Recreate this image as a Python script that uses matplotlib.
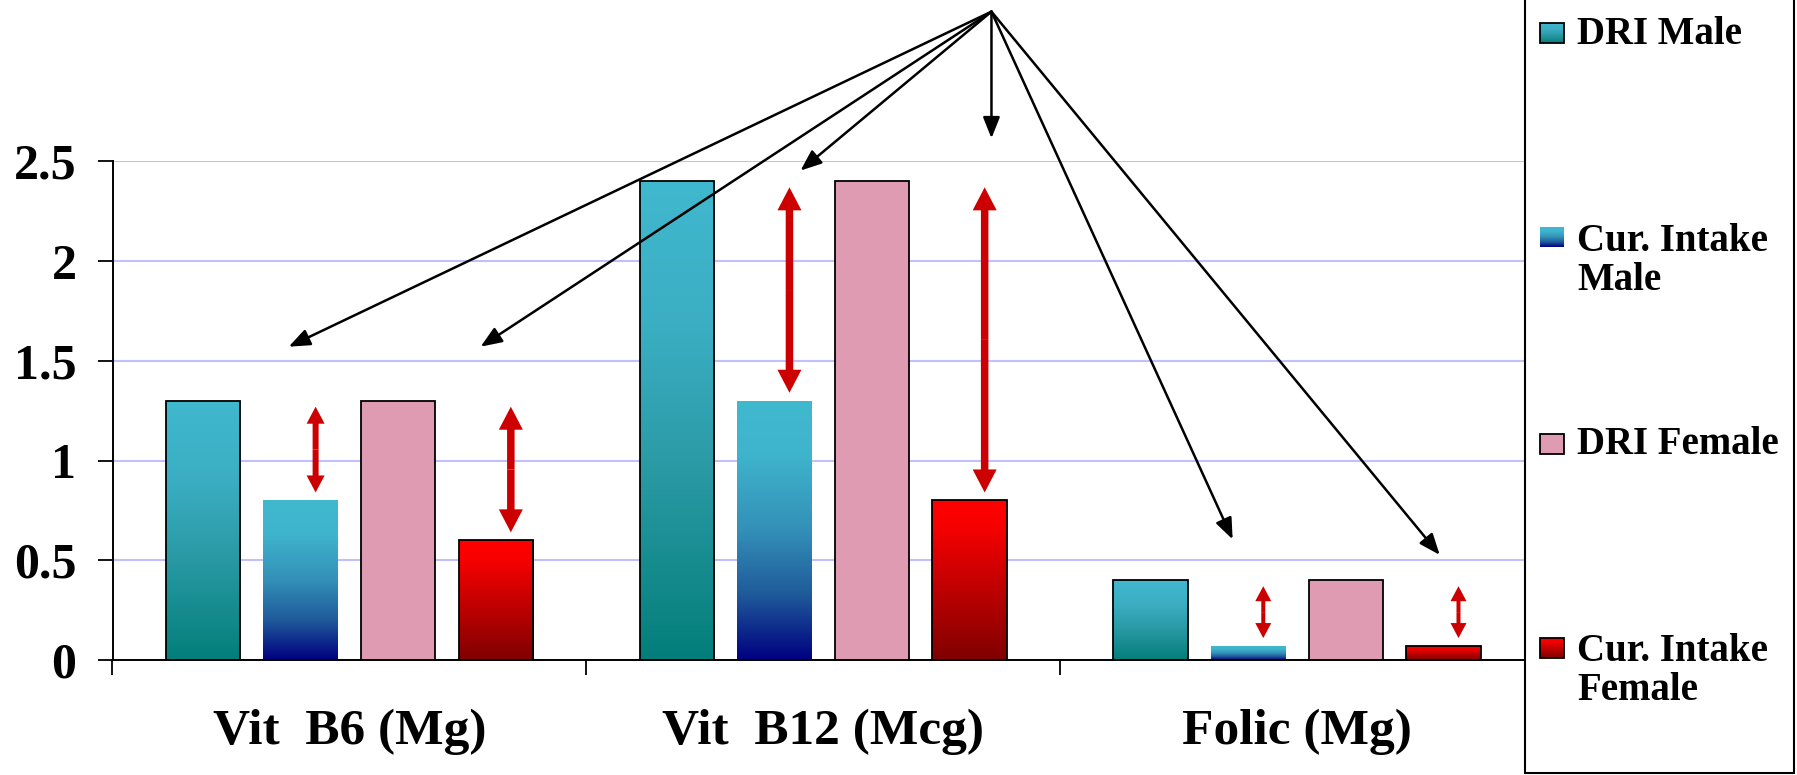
import numpy as np
import matplotlib
matplotlib.use("Agg")
import matplotlib.pyplot as plt
from matplotlib.colors import LinearSegmentedColormap
from matplotlib.patches import Rectangle, FancyArrow
from matplotlib.transforms import blended_transform_factory

plt.rcParams['font.family'] = ['Liberation Serif', 'DejaVu Serif']
plt.rcParams['font.weight'] = 'bold'

# ---- data ----
categories = ["Vit  B6 (Mg)", "Vit  B12 (Mcg)", "Folic (Mg)"]
series_names = ["DRI Male", "Cur. Intake\nMale", "DRI Female", "Cur. Intake\nFemale"]
dri_male = [1.3, 2.4, 0.4]
cur_male = [0.8, 1.3, 0.07]
dri_female = [1.3, 2.4, 0.4]
cur_female = [0.6, 0.8, 0.07]
y_ticks = [0, 0.5, 1, 1.5, 2, 2.5]

series = [dri_male, cur_male, dri_female, cur_female]

# ---- fills ----
def ramp(name, stops):
    return LinearSegmentedColormap.from_list(name, stops)

# colormaps run bottom (0) -> top (1)
fills = [
    ramp("dri_m", [(0.0, "#037E7A"), (0.4, "#2A9AA5"), (0.7, "#3BAEC3"), (1.0, "#40B8CE")]),
    ramp("cur_m", [(0.0, "#000080"), (0.25, "#1F5A9A"), (0.5, "#3390B8"), (0.8, "#3FB5CD"), (1.0, "#40B8CE")]),
    "#DF9BB2",
    ramp("cur_f", [(0.0, "#800000"), (0.85, "#F80000"), (1.0, "#FF0000")]),
]
edges = ["black", "none", "black", "black"]

W, H, DPI = 1797, 775, 100
fig = plt.figure(figsize=(W / DPI, H / DPI), dpi=DPI)

# plot area in pixels
px_left, px_right, px_bottom, px_top = 112.5, 1534, 660, 161.4
ax = fig.add_axes([px_left / W, 1 - px_bottom / H,
                   (px_right - px_left) / W, (px_bottom - px_top) / H])

n = len(categories)
x = np.arange(n)
bar_w = 0.157
pitch = 0.206

grad = np.linspace(0, 1, 256).reshape(-1, 1)


def gradient_fill(axis, rect, cmap, z):
    x0, y0 = rect.get_x(), rect.get_y()
    w, h = rect.get_width(), rect.get_height()
    im = axis.imshow(grad, extent=(x0, x0 + w, y0, y0 + h), origin='lower',
                     cmap=cmap, aspect='auto', zorder=z, interpolation='bilinear')
    im.set_clip_path(rect)


for k, vals in enumerate(series):
    pos = x + (k - 1.5) * pitch
    fill = fills[k]
    if isinstance(fill, str):
        bars = ax.bar(pos, vals, bar_w, color=fill, edgecolor=edges[k],
                      linewidth=1.3, zorder=3)
    else:
        bars = ax.bar(pos, vals, bar_w, facecolor='none', edgecolor=edges[k],
                      linewidth=1.3, zorder=3)
        for b in bars:
            gradient_fill(ax, b, fill, 2.5)

ax.set_xlim(-0.5, 2.5)
ax.set_ylim(0, 2.5)

# axes styling
for s in ("top", "right"):
    ax.spines[s].set_visible(False)
for s in ("left", "bottom"):
    ax.spines[s].set_linewidth(1.4)
    ax.spines[s].set_zorder(4)
ax.set_yticks(y_ticks)
ax.set_yticklabels([f"{v:g}" for v in y_ticks], fontsize=36, fontweight='bold')
ax.set_xticks(np.arange(-0.5, n, 1.0))
ax.set_xticklabels([])
ax.tick_params(axis='both', direction='out', length=11, width=1.3, color='black')
ax.tick_params(axis='y', pad=15)
ax.yaxis.grid(True, color='#C0C0FF', linewidth=1.5)
ax.set_axisbelow(True)

label_tr = blended_transform_factory(ax.transData, fig.transFigure)
for i, name in enumerate(categories):
    ax.text(i, 1 - 744 / H, name, transform=label_tr,
            ha='center', va='baseline', fontsize=37, fontweight='bold')

# ---- red double arrows showing the gap between DRI and current intake ----
px_per_x = (px_right - px_left) / 3.0
px_per_y = (px_bottom - px_top) / 2.5
red = "#CC0000"


def gap_arrow(xc, lo, hi):
    span = hi - lo
    if span < 0.36:
        shaft, hw, hl = 4, 16, 15
    elif span < 0.5:
        shaft, hw, hl = 6, 18, 17
    else:
        shaft, hw, hl = 7.5, 24, 23
    mid = (lo + hi) / 2
    for end in (lo, hi):
        a = FancyArrow(xc, mid, 0, end - mid, width=shaft / px_per_x,
                       head_width=hw / px_per_x, head_length=hl / px_per_y,
                       length_includes_head=True, color=red, linewidth=0,
                       zorder=5)
        ax.add_patch(a)


for k_cur, k_dri in ((1, 0), (3, 2)):
    for i in range(n):
        xc = x[i] + (k_cur - 1.5) * pitch + 15 / px_per_x
        lo = series[k_cur][i] + 0.04
        hi = series[k_dri][i] - 0.03
        gap_arrow(xc, lo, hi)

# ---- black pointer arrows fanning out from one point ----
apex = (1.355, 3.251)
tips = [(-0.128, 1.571), (0.277, 1.571), (0.952, 2.454),
        (1.355, 2.616), (1.864, 0.605), (2.301, 0.527)]
for tx, ty in tips:
    ax.annotate("", xy=(tx, ty), xytext=apex, annotation_clip=False,
                arrowprops=dict(arrowstyle='-|>,head_length=0.4,head_width=0.16',
                                mutation_scale=32, color='black', lw=1.8,
                                shrinkA=0, shrinkB=0), zorder=6)

# ---- legend box ----
lax = fig.add_axes([0, 0, 1, 1], zorder=10)
lax.set_xlim(0, W)
lax.set_ylim(H, 0)
lax.axis('off')
lax.patch.set_visible(False)
lax.add_patch(Rectangle((1525, -5), 269, 778, facecolor='white',
                        edgecolor='black', linewidth=1.5, zorder=1))

patch_rows = [33, 237, 444, 648]
text_rows = [34, 261, 445, 671]
for k, name in enumerate(series_names):
    cy = patch_rows[k]
    solid = isinstance(fills[k], str)
    r = Rectangle((1540, cy - 10), 24, 20, facecolor=fills[k] if solid else 'none',
                  edgecolor=edges[k], linewidth=1.3, zorder=3)
    lax.add_patch(r)
    if not solid:
        im = lax.imshow(grad, extent=(1540, 1564, cy + 10, cy - 10), origin='lower',
                        cmap=fills[k], aspect='auto', zorder=2, interpolation='bilinear')
        im.set_clip_path(r)
    lax.text(1577, text_rows[k], name, ha='left', va='center', fontsize=28,
             fontweight='bold', linespacing=1.08, zorder=4)
lax.set_xlim(0, W)
lax.set_ylim(H, 0)

fig.savefig("out.png", dpi=DPI, facecolor='white')
